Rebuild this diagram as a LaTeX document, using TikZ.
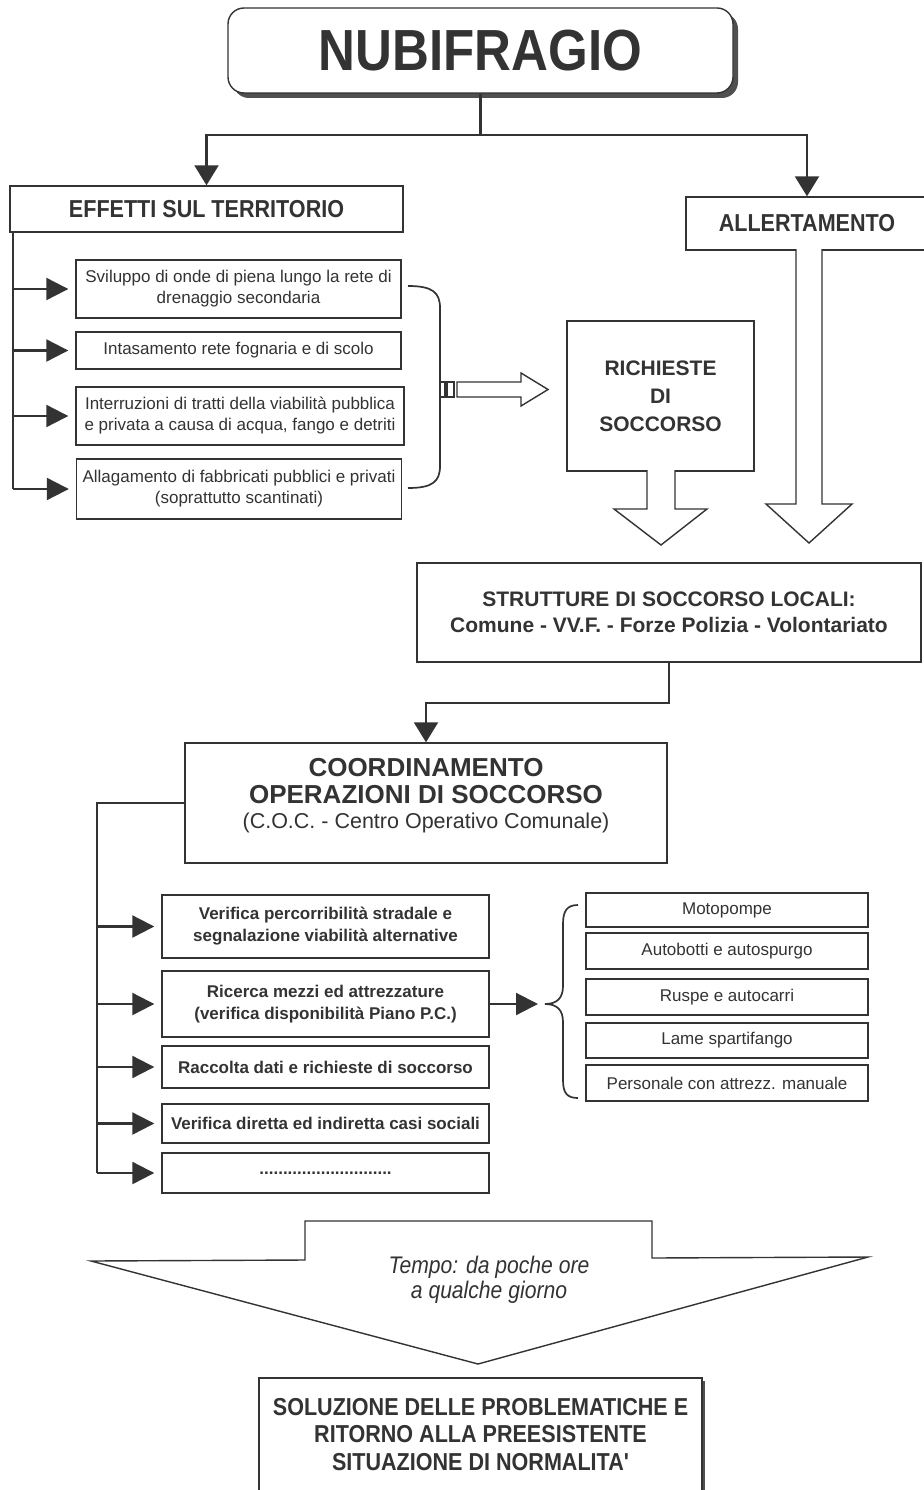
\documentclass[tikz,border=0pt]{standalone}
\usepackage{fontspec}
\setmainfont{Liberation Sans}
\newfontfamily\narrowfont{Liberation Sans}[FakeStretch=0.88]
\usetikzlibrary{arrows.meta,shadows}
\definecolor{ink}{HTML}{333333}
\definecolor{shade}{HTML}{505050}
\newcommand{\fs}[2]{\fontsize{#1}{#2}\selectfont}
\begin{document}
\begin{tikzpicture}[x=1pt,y=-1pt,
  box/.style={draw=ink, line width=1.4pt, fill=white, inner sep=0pt, text=ink, align=center},
  txt/.style={text=ink, align=center, inner sep=0pt},
  conn/.style={draw=ink, line width=2.2pt},
  arrT/.style={conn, -{Triangle[length=20pt,width=24pt]}},
  arr/.style={conn, -{Triangle[length=22pt,width=22pt]}, shorten >=7pt},
  hollow/.style={draw=ink, line width=1.4pt, fill=white, line join=miter},
  bracestyle/.style={draw=ink, line width=1.7pt},
  lfont/.style={font=\fs{17}{21}},
  bfont/.style={font=\bfseries\fs{17}{22}},
  rfont/.style={font=\fs{17}{20}}
]
\fill[white] (0,0) rectangle (923,1490);
\useasboundingbox (0,0) rectangle (923,1490);

% title
\node[box, rounded corners=16pt, minimum width=505pt, minimum height=85pt,
      drop shadow={shadow xshift=5pt, shadow yshift=-5pt, fill=shade, opacity=1},
      font=\narrowfont\bfseries\fs{58}{60}] (nub) at (480.5,50.5) {NUBIFRAGIO};

\node[box, minimum width=393pt, minimum height=46pt, font=\narrowfont\bfseries\fs{24.5}{26}] (eff) at (206.5,209) {EFFETTI SUL TERRITORIO};
\node[box, minimum width=242pt, minimum height=53pt, font=\narrowfont\bfseries\fs{24.5}{26}] (all) at (807,223.5) {ALLERTAMENTO};

\coordinate (j1) at (480.5,135);
\draw[conn] (nub.south) -- (j1);
\draw[arrT] (j1) -| (eff.north);
\draw[arrT] (j1) -| (all.north);

% left list
\node[box, lfont, minimum width=325pt, minimum height=58pt] (l1) at (238.5,289) {Sviluppo di onde di piena lungo la rete di\\drenaggio secondaria};
\node[box, lfont, minimum width=325pt, minimum height=37pt] (l2) at (238.5,350.5) {Intasamento rete fognaria e di scolo};
\node[box, lfont, minimum width=328pt, minimum height=58pt] (l3) at (240,416) {Interruzioni di tratti della viabilità pubblica\\e privata a causa di acqua, fango e detriti};
\node[box, lfont, minimum width=325pt, minimum height=60pt] (l4) at (239,489) {Allagamento di fabbricati pubblici e privati\\(soprattutto scantinati)};

\coordinate (ltop) at ([xshift=4pt]eff.south west);
\draw[conn] (ltop) -- (ltop |- l4.west);
\draw[arr] (ltop |- l1.west) -- (l1.west);
\draw[arr] (ltop |- l2.west) -- (l2.west);
\draw[arr] (ltop |- l3.west) -- (l3.west);
\draw[arr] (ltop |- l4.west) -- (l4.west);

% right bracket of left list
\draw[bracestyle] (408,286) .. controls (432,286) and (440,292) .. (440,308) -- (440,466) .. controls (440,482) and (432,488) .. (408,488);

% richieste
\node[box, minimum width=187pt, minimum height=150pt, font=\bfseries\fs{21}{28}] (ric) at (660.5,396) {RICHIESTE\\DI\\SOCCORSO};

% hollow arrow bracket -> richieste
\draw[hollow] (440,382) rectangle (445,397);
\draw[hollow] (447,382) rectangle (454,397);
\draw[hollow] (457,382) -- (521,382) -- (521,373) -- (548,389.5) -- (521,406) -- (521,397) -- (457,397) -- cycle;

% hollow down arrows
\draw[hollow] (647,470) -- (647,509) -- (614,509) -- (661,545) -- (707,509) -- (675,509) -- (675,470);
\draw[hollow] (796,249) -- (796,504) -- (766,504) -- (809,543) -- (852,504) -- (822,504) -- (822,249);

% strutture
\node[box, minimum width=504pt, minimum height=99pt, font=\bfseries\fs{21}{26}] (str) at (669,612.5) {STRUTTURE DI SOCCORSO LOCALI:\\Comune - VV.F. - Forze Polizia - Volontariato};

% coordinamento
\node[box, minimum width=482pt, minimum height=120pt] (coord) at (426,803) {};
\node[txt, font=\bfseries\fs{26}{27}] (coordt) at (426,796) {COORDINAMENTO\\OPERAZIONI DI SOCCORSO\\[-2pt]{\mdseries\fs{21.5}{25}(C.O.C. - Centro Operativo Comunale)}};

\coordinate (jmid) at (550,703);
\draw[arrT] (str.south) |- (jmid) -| (coord.north);

% lower list
\node[box, bfont, minimum width=327pt, minimum height=63pt] (b1) at (325.5,926.5) {Verifica percorribilità stradale e\\segnalazione viabilità alternative};
\node[box, bfont, minimum width=327pt, minimum height=66pt] (b2) at (325.5,1004) {Ricerca mezzi ed attrezzature\\(verifica disponibilità Piano P.C.)};
\node[box, bfont, minimum width=327pt, minimum height=42pt] (b3) at (325.5,1067) {Raccolta dati e richieste di soccorso};
\node[box, bfont, minimum width=327pt, minimum height=39pt] (b4) at (325.5,1123.5) {Verifica diretta ed indiretta casi sociali};
\node[box, bfont, minimum width=327pt, minimum height=40pt] (b5) at (325.5,1173) {............................};

\coordinate (cl) at (97,803);
\draw[conn] (coord.west) -- (cl) -- (cl |- b5.west);
\draw[arr] (cl |- b1.west) -- (b1.west);
\draw[arr] (cl |- b2.west) -- (b2.west);
\draw[arr] (cl |- b3.west) -- (b3.west);
\draw[arr] (cl |- b4.west) -- (b4.west);
\draw[arr] (cl |- b5.west) -- (b5.west);

% right list
\node[box, rfont, minimum width=282pt, minimum height=34pt] (r1) at (727,910) {Motopompe};
\node[box, rfont, minimum width=282pt, minimum height=36pt] (r2) at (727,951) {Autobotti e autospurgo};
\node[box, rfont, minimum width=282pt, minimum height=36pt] (r3) at (727,997) {Ruspe e autocarri};
\node[box, rfont, minimum width=282pt, minimum height=35pt] (r4) at (727,1040.5) {Lame spartifango};
\node[box, rfont, minimum width=282pt, minimum height=36pt] (r5) at (727,1083) {Personale con attrezz. manuale};

\coordinate (rb) at (545,1004);
\draw[arr] (b2.east) -- (rb);
\draw[bracestyle] (578,905) .. controls (567,905) and (563,911) .. (563,924) -- (563,986) .. controls (563,998) and (557,1004) .. (rb) .. controls (557,1004) and (563,1010) .. (563,1022) -- (563,1080) .. controls (563,1093) and (567,1098) .. (578,1098);

% big arrow
\draw[hollow] (305,1221) -- (652,1221) -- (652,1258) -- (868,1257) -- (478,1364) -- (91,1261) -- (305,1260) -- cycle;
\node[txt, font=\narrowfont\itshape\fs{24}{25}] (tempo) at (489,1279.5) {Tempo: da poche ore\\a qualche giorno};

% final box
\node[box, minimum width=443pt, minimum height=127pt,
      drop shadow={shadow xshift=3pt, shadow yshift=-3pt, fill=shade, opacity=1}] (sol) at (480.5,1441.5) {};
\node[txt, font=\narrowfont\bfseries\fs{24.5}{27.5}] (solt) at (480.5,1434.5) {SOLUZIONE DELLE PROBLEMATICHE E\\RITORNO ALLA PREESISTENTE\\SITUAZIONE DI NORMALITA'};
\end{tikzpicture}
\end{document}
